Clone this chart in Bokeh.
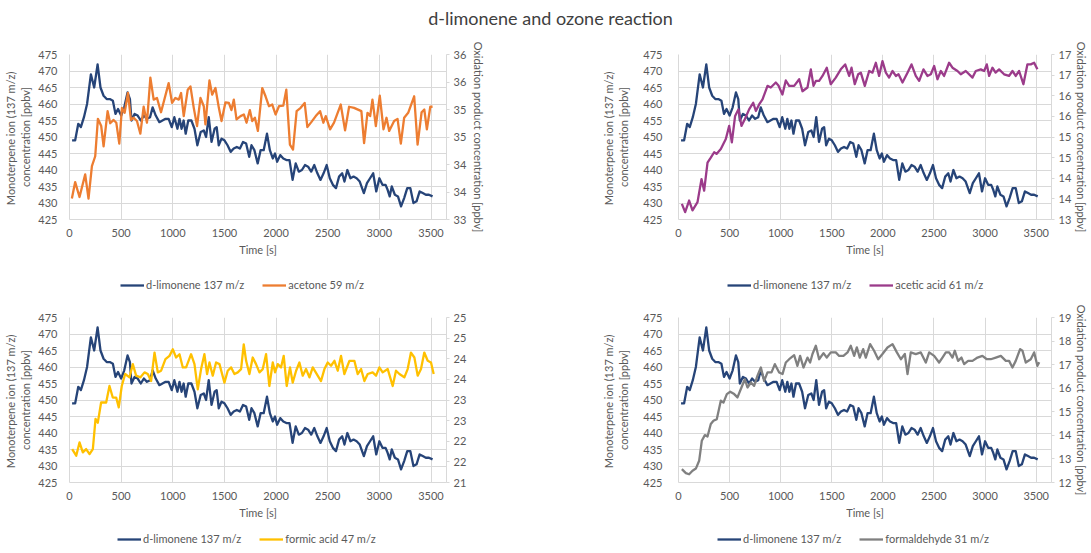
from bokeh.plotting import figure
from bokeh.models import Range1d, LinearAxis, FixedTicker, Legend, LegendItem, Div
from bokeh.layouts import column, row
from bokeh.embed import file_html
from bokeh.resources import INLINE

# ---------------- data ----------------
t_lim = [25, 55, 85, 110, 140, 170, 207, 239, 272, 300,
         330, 360, 390, 420, 445, 470, 500, 530, 562, 585,
         600, 630, 660, 690, 720, 750, 780, 805, 835, 870,
         900, 930, 960, 990, 1015, 1045, 1065, 1085, 1105, 1125,
         1150, 1180, 1210, 1238, 1270, 1300, 1322, 1348, 1375, 1405,
         1425, 1445, 1472, 1500, 1530, 1560, 1590, 1620, 1650, 1680,
         1710, 1740, 1762, 1790, 1822, 1850, 1880, 1912, 1940, 1968,
         1990, 2010, 2040, 2070, 2100, 2130, 2160, 2190, 2220, 2250,
         2280, 2310, 2340, 2370, 2400, 2430, 2460, 2490, 2520, 2550,
         2580, 2610, 2640, 2662, 2690, 2720, 2750, 2780, 2810, 2850,
         2880, 2910, 2940, 2970, 3000, 3030, 3060, 3080, 3100, 3120,
         3150, 3180, 3210, 3240, 3270, 3300, 3330, 3360, 3390, 3420,
         3450, 3480, 3515]
limonene = [449, 449, 454, 453, 456, 460, 469, 465, 472, 465,
            462.5, 461.5, 461.5, 461, 457, 458.5, 456.5, 459, 463.5, 461.5,
            455, 457, 456.5, 455, 456.5, 455.5, 456, 459, 456.5, 454.5,
            455, 455.5, 455.5, 453, 456, 452.5, 455.5, 452.5, 455, 451,
            455, 455, 452.5, 447.5, 451.5, 452, 450, 456, 448.5, 452.5,
            453, 447.5, 449.5, 449, 447.5, 445.5, 446.5, 447, 446.5, 448.5,
            448, 444, 447.5, 446, 442, 446, 446, 451, 446, 443.5,
            445, 442.5, 444.5, 443.5, 443, 443, 437, 442, 439.5, 440,
            441.5, 441, 439.5, 441.5, 439, 437, 439, 441.5, 437.5, 435.5,
            434.5, 438, 439, 436.5, 440, 437.5, 438, 437.5, 436.5, 433,
            436, 437.5, 439, 433.5, 437.5, 435.5, 435.5, 434, 432, 435,
            432.5, 432, 429, 431.5, 434.5, 434.5, 430, 430.5, 433.5, 433,
            432.5, 432.5, 432]

t_acetone = [23, 55, 97, 152, 184, 217, 249, 275, 307, 330,
             369, 394, 427, 453, 482, 508, 534, 566, 595, 621,
             653, 686, 718, 750, 783, 815, 847, 886, 960, 993,
             1025, 1058, 1080, 1106, 1145, 1171, 1203, 1235, 1268, 1300,
             1316, 1355, 1381, 1413, 1446, 1472, 1510, 1543, 1568, 1591,
             1617, 1656, 1688, 1714, 1746, 1769, 1795, 1824, 1866, 1898,
             1931, 1963, 1995, 2028, 2070, 2099, 2134, 2164, 2199, 2238,
             2277, 2303, 2341, 2384, 2426, 2458, 2481, 2523, 2561, 2626,
             2668, 2707, 2755, 2826, 2852, 2885, 2911, 2933, 2966, 3004,
             3040, 3069, 3095, 3143, 3176, 3208, 3240, 3279, 3337, 3370,
             3409, 3435, 3460, 3493, 3515]
acetone = [33.38, 33.68, 33.41, 33.82, 33.38, 33.97, 34.15, 34.83, 34.70, 34.33,
           34.97, 34.75, 34.81, 34.76, 34.38, 35.03, 34.94, 35.30, 34.81, 34.85,
           34.79, 34.56, 35.05, 34.76, 35.58, 35.18, 35.21, 34.95, 35.48, 35.12,
           35.21, 35.18, 35.30, 34.88, 35.36, 35.42, 35.03, 34.70, 35.21, 35.06,
           34.73, 35.53, 35.27, 35.39, 35.03, 34.79, 35.13, 35.12, 34.99, 35.18,
           34.82, 34.88, 34.91, 34.76, 34.99, 34.79, 34.85, 34.61, 35.39, 35.24,
           35.06, 35.09, 34.91, 35.06, 35.07, 35.36, 34.36, 34.27, 34.97, 35.03,
           35.12, 34.68, 34.77, 34.88, 34.97, 34.76, 34.88, 34.64, 34.76, 35.09,
           34.62, 35.05, 35.03, 34.97, 34.39, 34.94, 34.88, 35.18, 34.70, 35.25,
           34.64, 34.85, 34.61, 34.79, 34.83, 34.38, 34.85, 34.94, 35.24, 34.36,
           34.95, 35.00, 34.64, 35.05, 35.05]

t_acetic = [33, 65, 104, 137, 186, 225, 251, 284, 316, 349,
            372, 414, 463, 496, 522, 554, 587, 616, 649, 691,
            731, 757, 789, 822, 871, 903, 952, 978, 1017, 1050,
            1083, 1132, 1181, 1213, 1262, 1295, 1321, 1344, 1376, 1409,
            1451, 1490, 1539, 1588, 1631, 1670, 1693, 1725, 1758, 1784,
            1823, 1866, 1898, 1931, 1963, 1996, 2029, 2061, 2094, 2127,
            2153, 2192, 2241, 2280, 2322, 2355, 2397, 2436, 2469, 2502,
            2534, 2567, 2599, 2648, 2681, 2730, 2762, 2811, 2877, 2909,
            2958, 2991, 3017, 3040, 3072, 3103, 3137, 3186, 3235, 3268,
            3300, 3333, 3375, 3414, 3447, 3480, 3512]
acetic = [13.38, 13.18, 13.46, 13.22, 13.42, 13.98, 13.70, 14.38, 14.50, 14.63,
          14.59, 14.71, 14.95, 15.27, 14.87, 15.51, 15.67, 15.27, 15.43, 15.67,
          15.83, 15.63, 15.79, 15.91, 16.24, 16.20, 16.32, 16.25, 16.03, 16.37,
          16.24, 16.24, 16.40, 16.11, 16.20, 16.64, 16.24, 16.36, 16.36, 16.48,
          16.68, 16.28, 16.44, 16.64, 16.76, 16.48, 16.68, 16.28, 16.52, 16.56,
          16.24, 16.60, 16.56, 16.80, 16.48, 16.84, 16.56, 16.44, 16.60, 16.48,
          16.52, 16.32, 16.56, 16.76, 16.48, 16.36, 16.64, 16.48, 16.52, 16.72,
          16.40, 16.60, 16.48, 16.80, 16.68, 16.60, 16.52, 16.60, 16.44, 16.60,
          16.64, 16.60, 16.76, 16.48, 16.68, 16.56, 16.64, 16.52, 16.48, 16.60,
          16.48, 16.60, 16.28, 16.76, 16.76, 16.80, 16.64]

t_formic = [26, 65, 97, 129, 161, 194, 226, 252, 274, 306,
            355, 387, 419, 452, 477, 506, 539, 581, 613, 645,
            687, 726, 758, 790, 823, 855, 887, 929, 968, 1000,
            1032, 1065, 1097, 1129, 1177, 1210, 1242, 1274, 1306, 1332,
            1355, 1387, 1419, 1452, 1500, 1532, 1565, 1597, 1629, 1661,
            1687, 1710, 1742, 1774, 1806, 1839, 1871, 1903, 1935, 1968,
            1990, 2016, 2048, 2074, 2103, 2135, 2161, 2194, 2226, 2258,
            2290, 2323, 2355, 2403, 2435, 2468, 2500, 2532, 2565, 2597,
            2629, 2661, 2710, 2758, 2790, 2823, 2855, 2887, 2935, 2968,
            3000, 3032, 3081, 3129, 3161, 3194, 3242, 3274, 3306, 3339,
            3371, 3403, 3435, 3468, 3500, 3526]
formic = [21.81, 21.65, 21.97, 21.73, 21.81, 21.69, 21.81, 22.54, 22.45, 22.94,
          22.94, 23.34, 23.06, 23.06, 22.82, 23.34, 23.63, 23.55, 23.87, 23.59,
          23.55, 23.67, 23.63, 23.46, 24.15, 23.67, 23.71, 23.99, 24.07, 24.23,
          24.03, 24.11, 23.79, 23.79, 24.11, 23.87, 23.26, 23.75, 24.11, 23.63,
          23.91, 23.59, 23.91, 23.87, 23.42, 23.71, 23.79, 23.63, 23.67, 23.75,
          24.35, 23.95, 23.63, 24.03, 23.87, 23.67, 23.75, 24.11, 23.34, 23.91,
          23.67, 23.87, 23.79, 24.07, 23.34, 23.79, 23.42, 23.71, 23.91, 23.59,
          23.75, 23.55, 23.79, 23.59, 23.46, 23.75, 23.91, 23.83, 23.95, 23.71,
          24.07, 23.63, 23.95, 23.95, 23.63, 23.75, 23.46, 23.63, 23.67, 23.59,
          23.79, 23.67, 23.75, 23.34, 23.71, 23.63, 23.55, 23.75, 24.15, 24.03,
          23.59, 23.75, 24.15, 23.95, 23.91, 23.63]

t_formald = [33, 72, 104, 137, 170, 202, 228, 258, 284, 316,
             342, 375, 414, 440, 473, 506, 545, 577, 616, 649,
             675, 708, 740, 773, 806, 838, 871, 910, 943, 985,
             1018, 1050, 1083, 1132, 1164, 1190, 1223, 1262, 1288, 1311,
             1344, 1376, 1419, 1451, 1490, 1539, 1572, 1614, 1654, 1686,
             1719, 1745, 1774, 1807, 1833, 1875, 1914, 1954, 1996, 2045,
             2094, 2137, 2176, 2215, 2241, 2273, 2322, 2371, 2420, 2453,
             2502, 2550, 2583, 2616, 2648, 2681, 2704, 2736, 2769, 2795,
             2834, 2877, 2926, 2974, 3017, 3056, 3105, 3154, 3203, 3235,
             3268, 3300, 3343, 3366, 3398, 3447, 3480, 3512, 3530]
formald = [12.57, 12.40, 12.35, 12.50, 12.59, 12.92, 13.77, 14.01, 13.95, 14.48,
           14.62, 14.69, 15.47, 15.39, 15.75, 15.85, 15.75, 15.61, 16.03, 16.38,
           16.03, 16.24, 16.10, 16.53, 16.88, 16.31, 16.67, 16.67, 17.02, 16.67,
           16.60, 17.09, 17.23, 17.40, 16.95, 17.37, 16.88, 17.30, 17.09, 17.45,
           17.80, 17.23, 17.49, 17.30, 17.52, 17.52, 17.37, 17.37, 17.52, 17.80,
           17.37, 17.73, 17.30, 17.66, 17.30, 17.87, 17.59, 17.23, 17.45, 17.73,
           17.87, 17.52, 17.23, 17.45, 16.60, 17.52, 17.45, 17.52, 17.09, 17.52,
           17.37, 17.09, 17.30, 17.52, 17.52, 17.30, 17.59, 17.16, 17.30, 17.02,
           17.16, 17.16, 17.30, 17.37, 17.23, 17.23, 17.30, 17.37, 17.16, 17.16,
           16.88, 17.16, 17.66, 17.59, 17.09, 17.23, 17.52, 16.95, 17.10]

x_ticks = [0, 500, 1000, 1500, 2000, 2500, 3000, 3500]
y_ticks = [425, 430, 435, 440, 445, 450, 455, 460, 465, 470, 475]
r_ticks_acetone = [33, 33.5, 34, 34.5, 35, 35.5, 36]
r_ticks_acetic = [13, 13.5, 14, 14.5, 15, 15.5, 16, 16.5, 17]
r_ticks_formic = [21, 21.5, 22, 22.5, 23, 23.5, 24, 24.5, 25]
r_ticks_formald = [12, 13, 14, 15, 16, 17, 18, 19]

lim_name = "d-limonene 137 m/z"
title_text = "d-limonene and ozone reaction"
left_title = "Monoterpene  ion (137 m/z)\nconcentration [ppbv]"
right_title = "Oxidation product concentration [ppbv]"
x_title = "Time [s]"

# ---------------- styling ----------------
FONT = "Lato"
TXT = "#595959"
GRID = "#D9D9D9"
LIM_COLOR = "#264478"
W_LEFT, W_RIGHT = 545, 546


def excel_label(v):
    return str(int(v + 0.5))


def make_panel(t2, v2, color, rticks, col, top, show_rtitle):
    width = W_LEFT if col == 0 else W_RIGHT
    height = 225 if top else 230
    p = figure(width=width, height=height, output_backend="svg", toolbar_location=None,
               x_range=Range1d(0, 3650), y_range=Range1d(425, 475),
               min_border_left=69 if col == 0 else 133,
               min_border_right=99 if col == 0 else 36,
               min_border_top=16 if top else 21,
               min_border_bottom=44)
    p.outline_line_color = None
    p.extra_y_ranges = {"r": Range1d(rticks[0], rticks[-1])}

    for ax in (p.xaxis[0], p.yaxis[0]):
        ax.axis_line_color = GRID
        ax.major_tick_line_color = None
        ax.minor_tick_line_color = None
        ax.major_label_text_font = FONT
        ax.major_label_text_font_size = "11px"
        ax.major_label_text_color = TXT
        ax.axis_label_text_font = FONT
        ax.axis_label_text_font_size = "11px"
        ax.axis_label_text_font_style = "normal"
        ax.axis_label_text_color = TXT
    p.xaxis.ticker = FixedTicker(ticks=x_ticks)
    p.yaxis.ticker = FixedTicker(ticks=y_ticks)
    p.xaxis.axis_label = x_title
    p.xaxis.major_label_standoff = 3
    p.xaxis.axis_label_standoff = 3
    p.yaxis.axis_label = left_title
    p.yaxis.major_label_standoff = 6 if col == 0 else 10
    p.yaxis.axis_label_standoff = 3 if col == 0 else 10

    p.xgrid.grid_line_color = GRID
    p.ygrid.grid_line_color = GRID

    overrides = {}
    for v in rticks:
        k = int(v) if float(v).is_integer() else v
        overrides[k] = excel_label(v)
    rax = LinearAxis(y_range_name="r", ticker=FixedTicker(ticks=rticks),
                     major_label_overrides=overrides)
    rax.axis_line_color = GRID
    rax.major_tick_line_color = GRID
    rax.major_tick_out = 3
    rax.major_tick_in = 0
    rax.minor_tick_line_color = None
    rax.major_label_text_font = FONT
    rax.major_label_text_font_size = "11px"
    rax.major_label_text_color = TXT
    rax.major_label_standoff = 4
    if show_rtitle:
        rax.axis_label = right_title
        rax.axis_label_text_font = FONT
        rax.axis_label_text_font_size = "11px"
        rax.axis_label_text_font_style = "normal"
        rax.axis_label_text_color = TXT
        rax.axis_label_standoff = 3 if col == 0 else 1
    p.add_layout(rax, "right")

    p.line(t_lim, limonene, line_color=LIM_COLOR, line_width=2.3, line_join="round")
    p.line(t2, v2, line_color=color, line_width=2.3, line_join="round", y_range_name="r")
    return p


def make_legend(t2, v2, color, name, col, height, leg_x, leg_y):
    # legend strip: the series lie outside this strip's range (clipped),
    # so only the legend entries show
    width = W_LEFT if col == 0 else W_RIGHT
    q = figure(width=width, height=height, output_backend="svg", toolbar_location=None,
               min_border=0, x_axis_location=None, y_axis_location=None,
               x_range=Range1d(0, 1), y_range=Range1d(0, 1))
    q.outline_line_color = None
    q.grid.visible = False
    r1 = q.line(t_lim, limonene, line_color=LIM_COLOR, line_width=2.3)
    r2 = q.line(t2, v2, line_color=color, line_width=2.3)
    leg = Legend(items=[LegendItem(label=lim_name, renderers=[r1]),
                        LegendItem(label=name, renderers=[r2])],
                 orientation="horizontal", location=(leg_x, leg_y),
                 border_line_color=None, background_fill_alpha=0,
                 label_text_font=FONT, label_text_font_size="11px",
                 label_text_color=TXT, glyph_width=24, glyph_height=12,
                 label_height=12, label_standoff=2, spacing=18, padding=1,
                 margin=0)
    q.add_layout(leg)
    return q


p1 = make_panel(t_acetone, acetone, "#ED7D31", r_ticks_acetone, 0, True, True)
p2 = make_panel(t_acetic, acetic, "#9B3B8A", r_ticks_acetic, 1, True, True)
p3 = make_panel(t_formic, formic, "#FFC000", r_ticks_formic, 0, False, False)
p4 = make_panel(t_formald, formald, "#808080", r_ticks_formald, 1, False, True)

l1 = make_legend(t_acetone, acetone, "#ED7D31", "acetone 59 m/z", 0, 33, 120, 5)
l2 = make_legend(t_acetic, acetic, "#9B3B8A", "acetic acid 61 m/z", 1, 33, 182, 5)
l3 = make_legend(t_formic, formic, "#FFC000", "formic acid 47 m/z", 0, 21, 117, 2)
l4 = make_legend(t_formald, formald, "#808080", "formaldehyde 31 m/z", 1, 21, 172, 2)

title = Div(text='<div style="width:1063px;padding-left:28px;text-align:center;'
                 'font-family:Lato;font-size:18px;color:#404040;line-height:26px;">'
                 + title_text + '</div>',
            width=1091, height=28)

layout = column(title, row(p1, p2), row(l1, l2), row(p3, p4), row(l3, l4))
open("out.html", "w").write(file_html(layout, INLINE))
